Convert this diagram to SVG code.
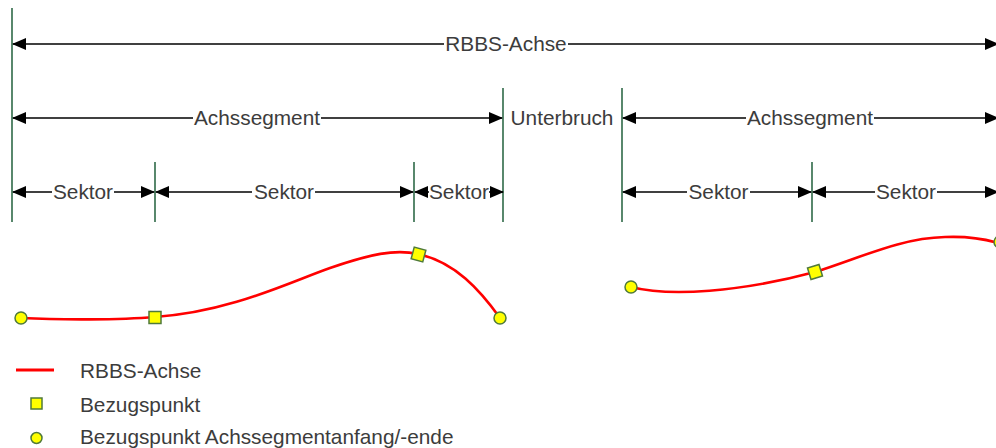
<svg xmlns="http://www.w3.org/2000/svg" width="996" height="448" viewBox="0 0 996 448">
<style>
.t{font-family:"Liberation Sans",Arial,sans-serif;font-size:20.8px;fill:#3c3c3c}
.m{text-anchor:middle}
.dim{stroke:#000;stroke-width:1.5;fill:none}
.ah{fill:#000}
.g{stroke:#2f6a48;stroke-width:1.6}
.ax{stroke:#f00;stroke-width:2.6;fill:none}
.pt{fill:#ffff00;stroke:#4f7a3a;stroke-width:1.5}
</style>
<defs>
<marker id="arr" viewBox="0 0 14 12" refX="13" refY="6" markerWidth="14" markerHeight="12" markerUnits="userSpaceOnUse" orient="auto">
<path d="M0,0 L14,6 L0,12 Z" class="ah"/>
</marker>
</defs>
<rect width="996" height="448" fill="#fff"/>
<g id="grenzen">
<line class="g" x1="12" y1="8" x2="12" y2="222"/>
<line class="g" x1="155" y1="162" x2="155" y2="222"/>
<line class="g" x1="414" y1="162" x2="414" y2="222"/>
<line class="g" x1="503" y1="88" x2="503" y2="222"/>
<line class="g" x1="622" y1="88" x2="622" y2="222"/>
<line class="g" x1="812" y1="162" x2="812" y2="222"/>
</g>
<g id="connectors">
<path class="dim" d="M444,44 H13" marker-end="url(#arr)"/>
<path class="dim" d="M568,44 H998" marker-end="url(#arr)"/>
<path class="dim" d="M193,118 H13" marker-end="url(#arr)"/>
<path class="dim" d="M321,118 H502" marker-end="url(#arr)"/>
<path class="dim" d="M746,118 H623" marker-end="url(#arr)"/>
<path class="dim" d="M874,118 H998" marker-end="url(#arr)"/>
<path class="dim" d="M52,192 H13" marker-end="url(#arr)"/>
<path class="dim" d="M114,192 H154" marker-end="url(#arr)"/>
<path class="dim" d="M252,192 H156" marker-end="url(#arr)"/>
<path class="dim" d="M315,192 H413" marker-end="url(#arr)"/>
<path class="dim" d="M429,192 H415" marker-end="url(#arr)"/>
<path class="dim" d="M489,192 H503" marker-end="url(#arr)"/>
<path class="dim" d="M687,192 H623" marker-end="url(#arr)"/>
<path class="dim" d="M750,192 H811" marker-end="url(#arr)"/>
<path class="dim" d="M875,192 H813" marker-end="url(#arr)"/>
<path class="dim" d="M937,192 H998" marker-end="url(#arr)"/>
</g>
<g id="labels">
<text class="t m" x="506" y="51">RBBS-Achse</text>
<text class="t m" x="257" y="125">Achssegment</text>
<text class="t m" x="562" y="125">Unterbruch</text>
<text class="t m" x="810" y="125">Achssegment</text>
<text class="t m" x="83" y="199">Sektor</text>
<text class="t m" x="284" y="199">Sektor</text>
<text class="t m" x="459" y="199">Sektor</text>
<text class="t m" x="718.5" y="199">Sektor</text>
<text class="t m" x="906" y="199">Sektor</text>
</g>
<g id="achse-links">
<path class="ax" d="M21,318 C60,320 120,320 155,317 C230,312 290,282 330,268 C370,254 395,249 418,254 C455,262 480,290 500,318"/>
<circle class="pt" cx="21" cy="318" r="6"/>
<rect class="pt" x="149" y="311.5" width="12" height="12"/>
<rect class="pt" x="-6" y="-6" width="12" height="12" transform="translate(418.5,254.5) rotate(15)"/>
<circle class="pt" cx="500" cy="318" r="6"/>
</g>
<g id="achse-rechts">
<path class="ax" d="M631,287 C670,297 740,292 815,272 C860,258 900,238 945,237 C970,236 985,239 998,243"/>
<circle class="pt" cx="631" cy="287" r="6"/>
<rect class="pt" x="-6" y="-6" width="12" height="12" transform="translate(815,272) rotate(-17)"/>
<circle class="pt" cx="1000" cy="242" r="6"/>
</g>
<g id="legende">
<line x1="16" y1="370" x2="54" y2="370" stroke="#f00" stroke-width="3"/>
<text class="t" x="80" y="378">RBBS-Achse</text>
<rect class="pt" x="31" y="398" width="11" height="11"/>
<text class="t" x="80" y="411.5">Bezugspunkt</text>
<circle class="pt" cx="36.5" cy="438" r="5.5"/>
<text class="t" x="80" y="443.5">Bezugspunkt Achssegmentanfang/-ende</text>
</g>
</svg>
